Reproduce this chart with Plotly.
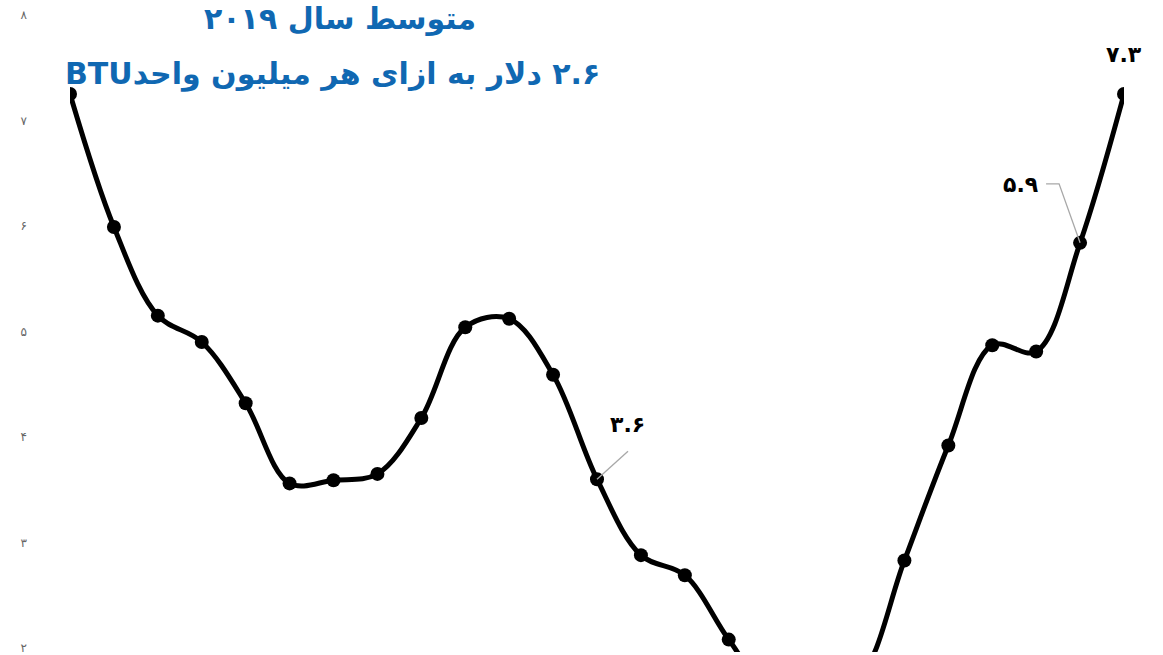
import plotly.graph_objects as go

# ---- data ----
months = ["2018-01", "2018-02", "2018-03", "2018-04", "2018-05", "2018-06",
          "2018-07", "2018-08", "2018-09", "2018-10", "2018-11", "2018-12",
          "2019-01", "2019-02", "2019-03", "2019-04", "2019-05", "2019-06",
          "2019-07", "2019-08", "2019-09", "2019-10", "2019-11", "2019-12",
          "2020-01"]
prices = [7.25, 5.99, 5.15, 4.90, 4.32, 3.56, 3.59, 3.65, 4.18, 5.04, 5.12, 4.59,
          3.60, 2.88, 2.69, 2.08, 1.55, 1.47, 1.72, 2.83, 3.92, 4.87, 4.81, 5.84, 7.25]
tick_vals = [2, 3, 4, 5, 6, 7, 8]
tick_text = ["۲", "۳", "۴", "۵", "۶", "۷", "۸"]
title_line1 = "متوسط سال ۲۰۱۹"
title_line2 = "۲.۶ دلار به ازای هر میلیون واحدBTU"
# (index, label, xshift, yshift)
point_labels = [(12, "۳.۶", 30, 55), (23, "۵.۹", -60, 58), (24, "۷.۳", 0, 40)]

W, H = 1163, 655
ML, MR, MT, MB = 70, 39, 0, 0
BLUE = "#1068b2"
RLE, PDF = "\u202B", "\u202C"

fig = go.Figure()
fig.add_trace(go.Scatter(
    x=list(range(len(months))), y=prices, customdata=months,
    mode="lines+markers",
    line=dict(color="black", width=5, shape="spline", smoothing=1),
    marker=dict(color="black", size=14),
    hovertemplate="%{customdata}: %{y}<extra></extra>",
))

ann = []
def paper_x(px):
    return (px - ML) / (W - ML - MR)
def paper_y(py):
    return 1 - (py - MT) / (H - MT - MB)

ann.append(dict(text=RLE + "<b>" + title_line1 + "</b>" + PDF, xref="paper", yref="paper",
                x=paper_x(340), y=paper_y(19), showarrow=False,
                font=dict(family="DejaVu Sans", size=30, color=BLUE),
                xanchor="center", yanchor="middle"))
ann.append(dict(text=RLE + "<b>" + title_line2 + "</b>" + PDF, xref="paper", yref="paper",
                x=paper_x(332), y=paper_y(74), showarrow=False,
                font=dict(family="DejaVu Sans", size=30, color=BLUE),
                xanchor="center", yanchor="middle"))

for idx, lab, xs, ys in point_labels:
    ann.append(dict(x=idx, y=prices[idx], xref="x", yref="y", text="<b>" + lab + "</b>",
                    showarrow=False, xshift=xs, yshift=ys,
                    font=dict(family="DejaVu Sans", size=22, color="black")))

# leader lines (pixel offsets anchored at the labelled data points)
leader = dict(color="#a8a8a8", width=1.3)
shapes = [
    dict(type="path", xref="x", yref="y", xsizemode="pixel", ysizemode="pixel",
         xanchor=12, yanchor=prices[12], path="M 0,0 L 31,28", line=leader),
    dict(type="path", xref="x", yref="y", xsizemode="pixel", ysizemode="pixel",
         xanchor=23, yanchor=prices[23], path="M 0,0 L -21,59 L -34,59", line=leader),
]

ypix_per_unit = 106.0
y7 = 121.0
y_top = 7 + (y7 - 0) / ypix_per_unit
y_bot = 7 - (H - y7) / ypix_per_unit

fig.update_layout(
    width=W, height=H,
    margin=dict(l=ML, r=MR, t=MT, b=MB, pad=0),
    paper_bgcolor="white", plot_bgcolor="white",
    showlegend=False,
    xaxis=dict(range=[0, len(months) - 1], visible=False, showgrid=False, zeroline=False),
    yaxis=dict(range=[y_bot, y_top], tickvals=tick_vals, ticktext=tick_text,
               showgrid=False, zeroline=False, showline=False, ticks="",
               ticklabelstandoff=42, ticklabeloverflow="allow",
               tickfont=dict(family="DejaVu Sans", size=12, color="#666666")),
    annotations=ann,
    shapes=shapes,
)

fig.write_html("out.html", config={"displayModeBar": False},
               post_script="document.body.style.margin='0';")
